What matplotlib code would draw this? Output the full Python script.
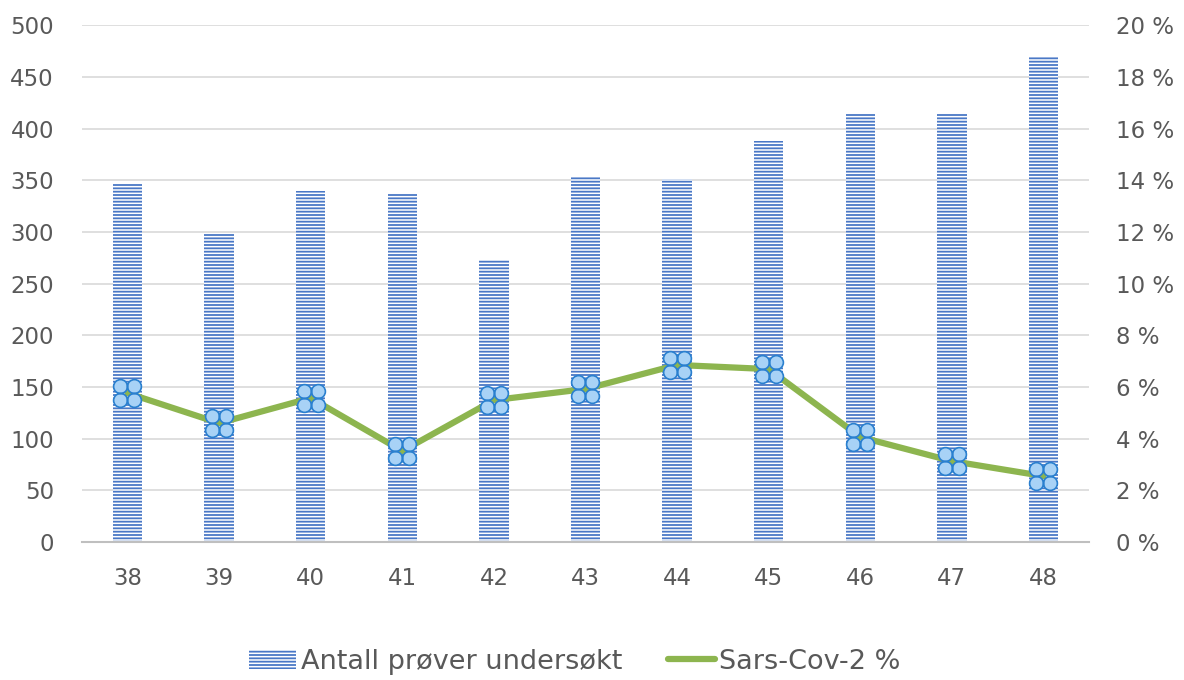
import numpy as np
import matplotlib.pyplot as plt
from matplotlib.path import Path
from matplotlib.patches import Patch
from matplotlib.lines import Line2D

weeks = ['38', '39', '40', '41', '42', '43', '44', '45', '46', '47', '48']
antall = [347, 299, 340, 337, 273, 354, 351, 388, 415, 415, 469]
sars_pct = [5.76, 4.6, 5.57, 3.52, 5.49, 5.92, 6.85, 6.69, 4.06, 3.13, 2.55]

bar_blue = '#4A78C6'
green = '#8DB54F'
grey_txt = '#595959'

plt.rcParams['font.family'] = ['DejaVu Sans']
plt.rcParams['hatch.linewidth'] = 1.3

# marker: four small touching circles in a square
circles = [Path.circle((dx, dy), 0.5) for dx in (-0.5, 0.5) for dy in (-0.5, 0.5)]
quad = Path.make_compound_path(*circles)

fig = plt.figure(figsize=(11.84, 6.8), dpi=100)
ax = fig.add_axes([0.069, 0.203, 0.851, 0.76])
ax2 = ax.twinx()

x = np.arange(len(weeks))
ax.bar(x, antall, width=0.32, facecolor='white', edgecolor=bar_blue,
       linewidth=0, hatch='-----', zorder=2)
ax.set_xlim(-0.5, len(weeks) - 0.5)
ax.set_ylim(0, 500)
ax.set_yticks(np.arange(0, 501, 50))
ax.set_xticks(x)
ax.set_xticklabels(weeks)
ax.grid(axis='y', color='#D9D9D9', linewidth=1.2, zorder=0)
ax.set_axisbelow(True)

ax2.plot(x, sars_pct, color=green, linewidth=4.5, zorder=3,
         marker=quad, markersize=20, markerfacecolor='#A8D2F6',
         markeredgecolor='#2A80CF', markeredgewidth=1.2, solid_capstyle='round')
ax2.set_ylim(0, 20)
ax2.set_yticks(np.arange(0, 21, 2))
ax2.set_yticklabels([f'{v} %' for v in range(0, 21, 2)])

for a in (ax, ax2):
    for s in ('top', 'left', 'right'):
        a.spines[s].set_visible(False)
    a.tick_params(length=0, labelsize=16.5, labelcolor=grey_txt)
ax.spines['bottom'].set_color('#BFBFBF')
ax.spines['bottom'].set_linewidth(1.5)
ax2.spines['bottom'].set_visible(False)
ax.tick_params(axis='x', pad=18)
ax.tick_params(axis='y', pad=20)
ax2.tick_params(axis='y', pad=19)

handles = [Patch(facecolor='white', edgecolor=bar_blue, linewidth=0, hatch='-----'),
           Line2D([0], [0], color=green, linewidth=4.5, solid_capstyle='round')]
fig.legend(handles, ['Antall prøver undersøkt', 'Sars-Cov-2 %'],
           loc='center', bbox_to_anchor=(0.4856, 0.027), ncol=2, frameon=False,
           fontsize=19.5, labelcolor=grey_txt, handlelength=1.75, handletextpad=0.15,
           columnspacing=1.7)

fig.savefig('out.png', dpi=100)
